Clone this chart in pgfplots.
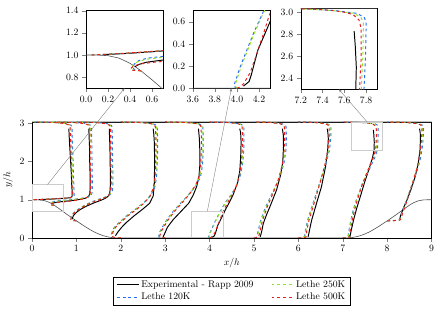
\documentclass[border=0pt]{standalone}
\usepackage{pgfplots}
\usepackage{pgfplotstable}
\pgfplotsset{compat=1.18}
\usetikzlibrary{arrows.meta}
\definecolor{lblue}{RGB}{40,110,240}
\definecolor{lgreen}{RGB}{150,225,40}
\definecolor{lred}{RGB}{230,30,30}

\pgfplotstableread{
x y
0 1.0
0.1 1.0
0.2 0.994
0.3 0.972
0.4 0.925
0.45 0.893
0.5 0.857
0.6 0.776
0.7 0.691
0.8 0.607
0.9 0.527
1.0 0.448
1.1 0.371
1.2 0.295
1.3 0.224
1.4 0.159
1.5 0.105
1.6 0.062
1.7 0.030
1.8 0.010
1.929 0
7.071 0
7.2 0.010
7.3 0.030
7.4 0.062
7.5 0.105
7.6 0.159
7.7 0.224
7.8 0.295
7.9 0.371
8.0 0.448
8.1 0.527
8.2 0.607
8.3 0.691
8.4 0.776
8.5 0.857
8.55 0.893
8.6 0.925
8.7 0.972
8.8 0.994
8.9 1.0
9.0 1.0
nan nan
0 3.036
9 3.036
}\geomdata

\pgfplotstableread{
x y
0.15 1.003
0.40 1.016
0.60 1.030
0.78 1.043
0.88 1.06
0.905 1.1
0.905 1.2
0.895 1.4
0.885 1.7
0.87 2.0
0.855 2.3
0.84 2.6
0.83 2.86
nan nan
0.445 0.895
0.48 0.915
0.55 0.935
0.70 0.955
0.90 0.98
1.08 1.01
1.20 1.04
1.27 1.08
1.30 1.15
1.31 1.3
1.31 1.6
1.30 2.0
1.295 2.4
1.285 2.7
1.28 2.86
nan nan
0.90 0.49
0.93 0.58
0.99 0.66
1.08 0.74
1.22 0.83
1.40 0.92
1.56 0.99
1.67 1.05
1.73 1.11
1.755 1.2
1.765 1.4
1.765 1.7
1.76 2.0
1.755 2.4
1.745 2.7
1.74 2.86
nan nan
1.88 0.06
1.93 0.15
2.02 0.28
2.12 0.40
2.30 0.58
2.50 0.76
2.65 0.91
2.73 1.10
2.755 1.4
2.76 1.8
2.76 2.2
2.755 2.5
2.745 2.7
2.73 2.86
nan nan
2.95 0.02
2.99 0.12
3.05 0.28
3.18 0.48
3.36 0.70
3.53 0.91
3.63 1.12
3.71 1.35
3.76 1.6
3.78 1.9
3.78 2.3
3.77 2.6
3.75 2.86
nan nan
4.06 0.02
4.11 0.06
4.13 0.12
4.15 0.195
4.19 0.345
4.255 0.495
4.30 0.60
4.36 0.75
4.43 0.9
4.53 1.13
4.63 1.45
4.68 1.75
4.70 2.1
4.71 2.5
4.70 2.75
4.68 2.86
nan nan
5.14 0.03
5.17 0.15
5.21 0.38
5.28 0.6
5.36 0.82
5.51 1.26
5.60 1.65
5.65 2.0
5.665 2.4
5.66 2.7
5.64 2.86
nan nan
6.22 0.03
6.25 0.2
6.30 0.47
6.41 0.91
6.52 1.34
6.61 1.85
6.66 2.3
6.675 2.6
6.665 2.75
6.65 2.86
nan nan
7.16 0.02
7.19 0.2
7.25 0.5
7.32 0.8
7.40 1.1
7.49 1.45
7.59 1.8
7.67 2.1
7.705 2.3
7.71 2.5
7.70 2.7
7.69 2.83
nan nan
8.28 0.47
8.30 0.58
8.34 0.7
8.38 0.82
8.45 1.0
8.54 1.28
8.63 1.6
8.70 1.95
8.74 2.3
8.75 2.6
8.745 2.75
8.73 2.86
}\expdata

\pgfplotstableread{
x y
0.05 1.0
0.30 1.011
0.55 1.026
0.76 1.04
0.90 1.055
0.945 1.08
0.95 1.15
0.945 1.3
0.935 1.6
0.925 2.0
0.915 2.4
0.905 2.7
0.90 2.9
0.88 2.95
0.80 2.99
0.65 3.01
0.46 3.025
0.23 3.033
0.05 3.036
nan nan
0.50 0.857
0.44 0.868
0.425 0.89
0.44 0.92
0.48 0.95
0.56 0.972
0.70 0.988
0.90 1.005
1.10 1.035
1.25 1.065
1.33 1.10
1.355 1.2
1.36 1.4
1.355 1.8
1.35 2.2
1.345 2.6
1.34 2.9
1.32 2.95
1.24 2.99
1.09 3.01
0.91 3.025
0.67 3.033
0.50 3.036
nan nan
1.00 0.448
0.90 0.462
0.88 0.495
0.89 0.57
0.93 0.65
1.00 0.72
1.10 0.80
1.24 0.89
1.40 0.97
1.55 1.03
1.67 1.08
1.755 1.13
1.805 1.2
1.82 1.35
1.82 1.7
1.815 2.1
1.81 2.5
1.805 2.9
1.785 2.95
1.71 2.99
1.57 3.01
1.41 3.025
1.18 3.033
1.00 3.036
nan nan
2.00 0.0
1.85 0.01
1.79 0.04
1.79 0.10
1.82 0.22
1.89 0.33
1.99 0.43
2.14 0.59
2.34 0.76
2.53 0.94
2.67 1.11
2.76 1.30
2.80 1.55
2.82 1.9
2.83 2.3
2.83 2.6
2.82 2.9
2.80 2.95
2.72 2.99
2.57 3.01
2.41 3.025
2.18 3.033
2.00 3.036
nan nan
3.00 0.0
2.87 0.01
2.855 0.05
2.875 0.15
2.93 0.27
3.04 0.48
3.19 0.71
3.38 0.95
3.57 1.19
3.72 1.41
3.80 1.63
3.84 1.9
3.855 2.3
3.855 2.6
3.85 2.9
3.83 2.95
3.75 2.99
3.60 3.01
3.43 3.025
3.19 3.033
3.00 3.036
nan nan
4.00 0.0
3.975 0.015
3.98 0.045
4.03 0.195
4.09 0.345
4.15 0.495
4.225 0.66
4.29 0.80
4.37 0.95
4.49 1.14
4.61 1.38
4.695 1.65
4.745 1.95
4.77 2.3
4.775 2.6
4.77 2.9
4.75 2.95
4.675 2.99
4.525 3.01
4.39 3.025
4.16 3.033
4.00 3.036
nan nan
5.00 0.0
5.04 0.01
5.065 0.045
5.09 0.16
5.15 0.46
5.27 0.83
5.42 1.19
5.57 1.56
5.675 1.95
5.72 2.3
5.73 2.6
5.725 2.9
5.705 2.95
5.63 2.99
5.48 3.01
5.36 3.025
5.16 3.033
5.00 3.036
nan nan
6.00 0.0
6.11 0.01
6.14 0.05
6.16 0.2
6.21 0.47
6.33 0.91
6.48 1.44
6.61 1.9
6.70 2.3
6.73 2.6
6.735 2.9
6.715 2.95
6.64 2.99
6.49 3.01
6.37 3.025
6.16 3.033
6.00 3.036
nan nan
7.00 0.0
7.09 0.01
7.12 0.05
7.14 0.2
7.18 0.45
7.24 0.75
7.31 1.01
7.44 1.41
7.60 1.8
7.72 2.1
7.78 2.3
7.795 2.6
7.80 2.9
7.785 2.95
7.72 2.99
7.52 3.015
7.36 3.025
7.16 3.033
7.00 3.036
nan nan
8.00 0.448
8.19 0.458
8.27 0.47
8.30 0.53
8.32 0.63
8.37 0.79
8.43 0.96
8.505 1.21
8.59 1.48
8.685 1.8
8.75 2.08
8.795 2.4
8.815 2.7
8.82 2.9
8.80 2.95
8.73 2.99
8.58 3.01
8.41 3.025
8.19 3.033
8.00 3.036
}\bluedata

\pgfplotstableread{
x y
0.05 1.0
0.30 1.012
0.55 1.028
0.75 1.042
0.88 1.055
0.925 1.08
0.93 1.15
0.925 1.3
0.915 1.6
0.905 2.0
0.895 2.4
0.885 2.7
0.88 2.9
0.86 2.95
0.78 2.99
0.63 3.01
0.45 3.025
0.22 3.033
0.05 3.036
nan nan
0.50 0.857
0.43 0.865
0.415 0.885
0.43 0.912
0.47 0.94
0.55 0.962
0.70 0.98
0.90 1.00
1.10 1.03
1.24 1.06
1.31 1.10
1.335 1.2
1.34 1.4
1.335 1.8
1.33 2.2
1.325 2.6
1.32 2.9
1.30 2.95
1.22 2.99
1.07 3.01
0.90 3.025
0.66 3.033
0.50 3.036
nan nan
1.00 0.448
0.90 0.46
0.88 0.49
0.89 0.56
0.93 0.64
1.00 0.71
1.10 0.79
1.24 0.88
1.40 0.96
1.55 1.02
1.66 1.07
1.74 1.12
1.785 1.2
1.80 1.35
1.80 1.7
1.795 2.1
1.79 2.5
1.785 2.9
1.765 2.95
1.69 2.99
1.55 3.01
1.40 3.025
1.17 3.033
1.00 3.036
nan nan
2.00 0.0
1.86 0.01
1.80 0.04
1.80 0.10
1.83 0.22
1.90 0.33
2.00 0.43
2.15 0.59
2.35 0.76
2.53 0.93
2.66 1.10
2.74 1.30
2.78 1.55
2.80 1.9
2.81 2.3
2.81 2.6
2.80 2.9
2.78 2.95
2.70 2.99
2.55 3.01
2.40 3.025
2.17 3.033
2.00 3.036
nan nan
3.00 0.0
2.88 0.01
2.865 0.05
2.885 0.15
2.94 0.27
3.05 0.48
3.20 0.71
3.38 0.94
3.56 1.18
3.70 1.40
3.78 1.62
3.82 1.9
3.835 2.3
3.835 2.6
3.83 2.9
3.81 2.95
3.73 2.99
3.58 3.01
3.42 3.025
3.18 3.033
3.00 3.036
nan nan
4.00 0.0
3.985 0.02
3.99 0.05
4.04 0.2
4.10 0.35
4.16 0.5
4.23 0.66
4.30 0.80
4.38 0.95
4.49 1.13
4.60 1.37
4.68 1.65
4.73 1.95
4.755 2.3
4.76 2.6
4.755 2.9
4.735 2.95
4.66 2.99
4.51 3.01
4.38 3.025
4.15 3.033
4.00 3.036
nan nan
5.00 0.0
5.05 0.01
5.075 0.04
5.10 0.15
5.16 0.45
5.28 0.82
5.42 1.17
5.56 1.55
5.66 1.95
5.70 2.3
5.71 2.6
5.705 2.9
5.685 2.95
5.61 2.99
5.46 3.01
5.35 3.025
5.15 3.033
5.00 3.036
nan nan
6.00 0.0
6.12 0.01
6.15 0.05
6.17 0.2
6.22 0.47
6.34 0.91
6.48 1.43
6.60 1.9
6.68 2.3
6.71 2.6
6.715 2.9
6.695 2.95
6.62 2.99
6.47 3.01
6.36 3.025
6.15 3.033
6.00 3.036
nan nan
7.00 0.0
7.10 0.01
7.13 0.05
7.15 0.2
7.19 0.45
7.25 0.75
7.31 1.0
7.43 1.4
7.58 1.8
7.70 2.1
7.755 2.3
7.77 2.6
7.775 2.9
7.755 2.95
7.69 2.99
7.50 3.015
7.35 3.025
7.15 3.033
7.00 3.036
nan nan
8.00 0.448
8.20 0.458
8.28 0.47
8.31 0.52
8.33 0.62
8.38 0.78
8.43 0.95
8.50 1.2
8.58 1.47
8.67 1.8
8.73 2.08
8.775 2.4
8.795 2.7
8.80 2.9
8.78 2.95
8.71 2.99
8.56 3.01
8.40 3.025
8.18 3.033
8.00 3.036
}\greendata

\pgfplotstableread{
x y
0.05 1.0
0.30 1.013
0.55 1.029
0.74 1.043
0.86 1.056
0.905 1.08
0.91 1.15
0.905 1.3
0.895 1.6
0.885 2.0
0.875 2.4
0.865 2.7
0.86 2.9
0.84 2.95
0.76 2.99
0.61 3.01
0.44 3.025
0.21 3.033
0.05 3.036
nan nan
0.50 0.857
0.42 0.862
0.405 0.875
0.43 0.90
0.50 0.92
0.60 0.933
0.70 0.942
0.90 0.97
1.10 1.01
1.22 1.05
1.29 1.10
1.315 1.2
1.32 1.4
1.315 1.8
1.31 2.2
1.305 2.6
1.30 2.9
1.28 2.95
1.20 2.99
1.05 3.01
0.88 3.025
0.65 3.033
0.50 3.036
nan nan
1.00 0.448
0.89 0.458
0.875 0.48
0.885 0.55
0.93 0.63
1.00 0.70
1.10 0.78
1.24 0.87
1.40 0.95
1.55 1.01
1.65 1.06
1.725 1.11
1.765 1.2
1.78 1.35
1.78 1.7
1.775 2.1
1.77 2.5
1.765 2.9
1.745 2.95
1.67 2.99
1.53 3.01
1.39 3.025
1.16 3.033
1.00 3.036
nan nan
2.00 0.0
1.87 0.01
1.81 0.035
1.81 0.10
1.845 0.22
1.92 0.33
2.02 0.43
2.17 0.59
2.37 0.76
2.54 0.93
2.66 1.10
2.73 1.30
2.765 1.55
2.785 1.9
2.79 2.3
2.79 2.6
2.78 2.9
2.76 2.95
2.68 2.99
2.53 3.01
2.39 3.025
2.16 3.033
2.00 3.036
nan nan
3.00 0.0
2.90 0.01
2.88 0.05
2.90 0.15
2.96 0.27
3.07 0.48
3.22 0.71
3.39 0.93
3.56 1.17
3.69 1.39
3.765 1.62
3.80 1.9
3.815 2.3
3.815 2.6
3.81 2.9
3.79 2.95
3.71 2.99
3.56 3.01
3.41 3.025
3.17 3.033
3.00 3.036
nan nan
4.00 0.0
4.025 0.01
4.06 0.04
4.12 0.14
4.18 0.31
4.24 0.49
4.29 0.65
4.35 0.80
4.42 0.95
4.51 1.13
4.61 1.37
4.675 1.65
4.715 1.95
4.735 2.3
4.74 2.6
4.735 2.9
4.715 2.95
4.64 2.99
4.49 3.01
4.37 3.025
4.14 3.033
4.00 3.036
nan nan
5.00 0.0
5.09 0.015
5.11 0.05
5.14 0.2
5.19 0.45
5.30 0.82
5.43 1.17
5.555 1.55
5.645 1.95
5.68 2.3
5.69 2.6
5.685 2.9
5.665 2.95
5.59 2.99
5.44 3.01
5.34 3.025
5.14 3.033
5.00 3.036
nan nan
6.00 0.0
6.16 0.012
6.18 0.05
6.19 0.2
6.24 0.47
6.355 0.91
6.485 1.43
6.595 1.9
6.665 2.3
6.69 2.6
6.695 2.9
6.675 2.95
6.60 2.99
6.45 3.01
6.35 3.025
6.14 3.033
6.00 3.036
nan nan
7.00 0.0
7.13 0.012
7.15 0.05
7.17 0.2
7.21 0.45
7.27 0.75
7.33 1.0
7.44 1.4
7.575 1.8
7.685 2.1
7.74 2.3
7.755 2.6
7.755 2.85
7.735 2.93
7.68 2.98
7.58 3.005
7.45 3.02
7.30 3.03
7.00 3.036
nan nan
8.00 0.448
8.22 0.46
8.29 0.47
8.32 0.52
8.34 0.62
8.39 0.78
8.44 0.95
8.505 1.2
8.58 1.47
8.665 1.8
8.72 2.08
8.76 2.4
8.78 2.7
8.785 2.9
8.765 2.95
8.69 2.99
8.54 3.01
8.39 3.025
8.17 3.033
8.00 3.036
}\reddata

\pgfplotsset{
  common/.style={
    scale only axis,
    anchor=south west,
    tick align=outside,
    tick pos=left,
    unbounded coords=jump,
    axis line style={black},
  },
  inset/.style={
    common,
    xticklabel style={/pgf/number format/.cd,fixed,fixed zerofill,precision=1},
    yticklabel style={/pgf/number format/.cd,fixed,fixed zerofill,precision=1},
  },
  geomline/.style={black!70, line width=0.6pt, forget plot},
  expline/.style={black, line width=1pt, forget plot},
  bline/.style={lblue, dashed, line width=1pt, forget plot},
  gline/.style={lgreen, dashed, line width=1pt, forget plot},
  rline/.style={lred, dashed, line width=1pt, forget plot},
  legend image code/.code={\draw[#1] (0cm,0cm) -- (0.8cm,0cm);},
}

\newcommand{\drawall}{%
  \addplot[geomline] table[x=x,y=y] {\geomdata};
  \addplot[expline] table[x=x,y=y] {\expdata};
  \addplot[bline] table[x=x,y=y] {\bluedata};
  \addplot[gline] table[x=x,y=y] {\greendata};
  \addplot[rline] table[x=x,y=y] {\reddata};
}

\begin{document}
\begin{tikzpicture}
\useasboundingbox (0pt,0pt) rectangle (454.2pt,-322.4pt);

% main axis
\begin{axis}[common,
  at={(32.96pt,-245.1pt)},
  width=411.5pt, height=119.5pt,
  xmin=0, xmax=9, ymin=0, ymax=3.036,
  xtick={0,1,2,3,4,5,6,7,8,9}, ytick={0,1,2,3},
  xlabel={$x/h$}, ylabel={$y/h$},
  legend columns=2,
  legend cell align=left,
  legend style={at={(0.5,-0.334)}, anchor=north,
    /tikz/every even column/.append style={column sep=16pt}},
]
\drawall
\draw[gray!40, line width=0.7pt] (axis cs:0,0.7) rectangle (axis cs:0.7,1.4);
\draw[gray!40, line width=0.7pt] (axis cs:3.6,0) rectangle (axis cs:4.3,0.7);
\draw[gray!40, line width=0.7pt] (axis cs:7.2,2.3) rectangle (axis cs:7.9,3.036);
\coordinate (m1) at (axis cs:0.35,1.4);
\coordinate (m2) at (axis cs:3.95,0.7);
\coordinate (m3) at (axis cs:7.55,3.036);
\addlegendimage{black, line width=1pt}
\addlegendentry{Experimental - Rapp 2009}
\addlegendimage{lgreen, dashed, line width=1pt}
\addlegendentry{Lethe 250K}
\addlegendimage{lblue, dashed, line width=1pt}
\addlegendentry{Lethe 120K}
\addlegendimage{lred, dashed, line width=1pt}
\addlegendentry{Lethe 500K}
\end{axis}

% inset 1
\begin{axis}[inset,
  at={(88.6pt,-90.9pt)},
  width=79.3pt, height=79.9pt,
  xmin=0, xmax=0.7, ymin=0.7, ymax=1.4,
  xtick={0,0.2,0.4,0.6}, ytick={0.8,1.0,1.2,1.4},
]
\drawall
\coordinate (i1) at (axis cs:0.35,0.7);
\end{axis}

% inset 2
\begin{axis}[inset,
  at={(198.5pt,-90.9pt)},
  width=79.6pt, height=79.9pt,
  xmin=3.6, xmax=4.3, ymin=0, ymax=0.7,
  xtick={3.6,3.8,4.0,4.2}, ytick={0,0.2,0.4,0.6},
]
\drawall
\coordinate (i2) at (axis cs:3.95,0);
\end{axis}

% inset 3
\begin{axis}[inset,
  at={(309.7pt,-92.0pt)},
  width=78.6pt, height=83.4pt,
  xmin=7.2, xmax=7.9, ymin=2.3, ymax=3.036,
  xtick={7.2,7.4,7.6,7.8}, ytick={2.4,2.6,2.8,3.0},
]
\drawall
\coordinate (i3) at (axis cs:7.55,2.3);
\end{axis}

\draw[gray, line width=0.4pt, -{Stealth[length=3.5pt,width=2.5pt]}] (m1) -- (i1);
\draw[gray, line width=0.4pt, -{Stealth[length=3.5pt,width=2.5pt]}] (m2) -- (i2);
\draw[gray, line width=0.4pt, -{Stealth[length=3.5pt,width=2.5pt]}] (m3) -- (i3);
\end{tikzpicture}
\end{document}
